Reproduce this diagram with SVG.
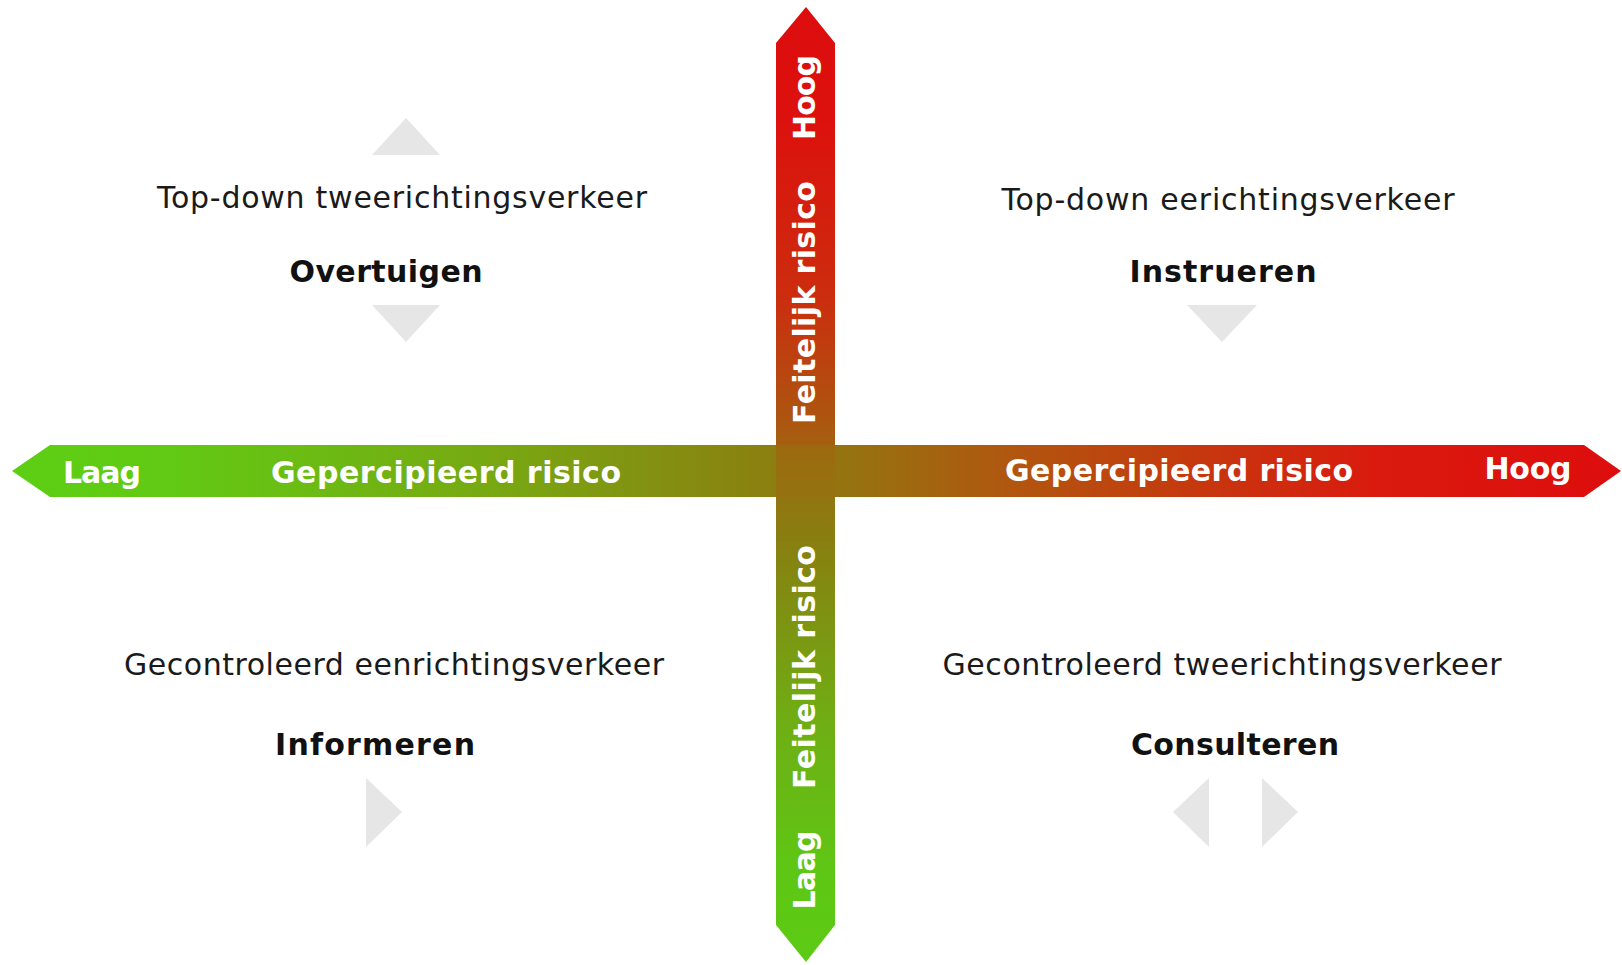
<svg xmlns="http://www.w3.org/2000/svg" width="1622" height="965" viewBox="0 0 1622 965">
<style>
.q{font-family:"DejaVu Sans","Verdana",sans-serif;font-size:30px;fill:#1a1a1a;text-anchor:middle}
.qb{font-family:"DejaVu Sans","Verdana",sans-serif;font-size:30px;font-weight:bold;fill:#111;text-anchor:middle}
.ax{font-family:"DejaVu Sans","Verdana",sans-serif;font-size:30px;font-weight:bold;fill:#fff;text-anchor:middle}
.tri{fill:#e6e6e6}
</style>
<defs>
<linearGradient id="gh" gradientUnits="userSpaceOnUse" x1="12" y1="0" x2="1621" y2="0">
<stop offset="0" stop-color="#5ccf13"/>
<stop offset="0.1" stop-color="#62c914"/>
<stop offset="0.3" stop-color="#78a812"/>
<stop offset="0.49" stop-color="#8d7b10"/>
<stop offset="0.63" stop-color="#b3540f"/>
<stop offset="0.85" stop-color="#da1a0e"/>
<stop offset="1" stop-color="#dd0d0d"/>
</linearGradient>
<linearGradient id="gv" gradientUnits="userSpaceOnUse" x1="0" y1="7" x2="0" y2="962">
<stop offset="0" stop-color="#dd0d0d"/>
<stop offset="0.12" stop-color="#dc110d"/>
<stop offset="0.3" stop-color="#cc2c0e"/>
<stop offset="0.44" stop-color="#ab5810"/>
<stop offset="0.5" stop-color="#957210"/>
<stop offset="0.56" stop-color="#887f10"/>
<stop offset="0.75" stop-color="#6fae14"/>
<stop offset="0.9" stop-color="#5fc614"/>
<stop offset="1" stop-color="#5ccb14"/>
</linearGradient>
</defs>
<rect width="1622" height="965" fill="#ffffff"/>
<g id="connectors">
<polygon id="axis-h" points="12,471 50,445 1584,445 1621,471 1584,497 50,497" fill="url(#gh)"/>
<polygon id="axis-v" points="806,7 835,43 835,925 806,962 776,925 776,43" fill="url(#gv)"/>
<rect x="776" y="445" width="59" height="52" fill="#98710f" opacity="0.55"/>
<g id="axis-labels">
<text class="ax" x="102" y="483" textLength="78">Laag</text>
<text class="ax" x="446" y="483" textLength="350">Gepercipieerd risico</text>
<text class="ax" x="1179" y="481" textLength="348">Gepercipieerd risico</text>
<text class="ax" x="1528" y="479" textLength="87">Hoog</text>
<text class="ax" transform="translate(815,97.5) rotate(-90)" x="0" y="0" textLength="85">Hoog</text>
<text class="ax" transform="translate(815,302.5) rotate(-90)" x="0" y="0" textLength="243">Feitelijk risico</text>
<text class="ax" transform="translate(815,667) rotate(-90)" x="0" y="0" textLength="244">Feitelijk risico</text>
<text class="ax" transform="translate(815,870) rotate(-90)" x="0" y="0" textLength="79">Laag</text>
</g>
</g>
<g id="node-overtuigen">
<polygon class="tri" points="372,155 440,155 406,118"/>
<text class="q" x="402" y="208" textLength="490">Top-down tweerichtingsverkeer</text>
<text class="qb" x="386" y="282" textLength="193">Overtuigen</text>
<polygon class="tri" points="372,305 440,305 406,342"/>
</g>
<g id="node-instrueren">
<text class="q" x="1228" y="210" textLength="453">Top-down eerichtingsverkeer</text>
<text class="qb" x="1223" y="282" textLength="187">Instrueren</text>
<polygon class="tri" points="1187,305 1257,305 1222,342"/>
</g>
<g id="node-informeren">
<text class="q" x="394" y="675" textLength="540">Gecontroleerd eenrichtingsverkeer</text>
<text class="qb" x="375" y="755" textLength="200">Informeren</text>
<polygon class="tri" points="366,778 366,847 402,812"/>
</g>
<g id="node-consulteren">
<text class="q" x="1222" y="675" textLength="559">Gecontroleerd tweerichtingsverkeer</text>
<text class="qb" x="1235" y="755" textLength="208">Consulteren</text>
<polygon class="tri" points="1209,778 1209,847 1173,812"/>
<polygon class="tri" points="1262,778 1262,847 1298,812"/>
</g>
</svg>
